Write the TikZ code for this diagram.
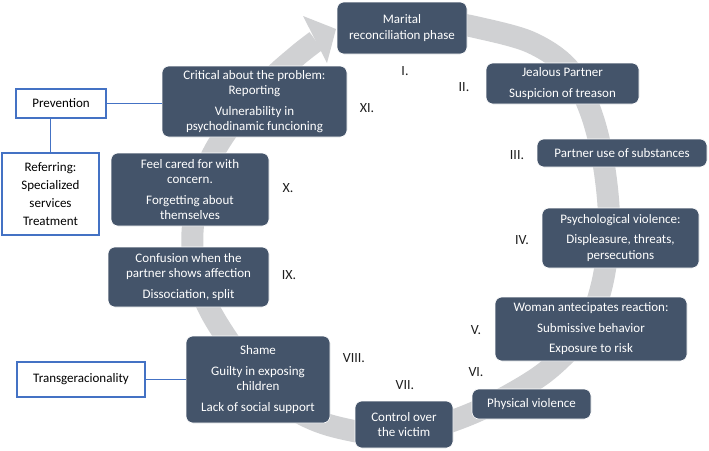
\documentclass[tikz,border=0pt]{standalone}
\usepackage{fontspec}
\setmainfont{Carlito}
\definecolor{boxc}{HTML}{44546A}
\definecolor{bandc}{HTML}{D0D1D3}
\definecolor{bluec}{HTML}{4472C4}
\definecolor{labc}{HTML}{1E1E1E}
\tikzset{
  darkbox/.style={rectangle, rounded corners=7pt, fill=boxc, draw=white, line width=0.6pt,
    text=white, align=center, inner sep=2pt,
    font=\fontsize{13}{15.5}\selectfont},
  bluebox/.style={rectangle, fill=white, draw=bluec, line width=1.2pt,
    text=black, align=center, inner sep=2pt,
    font=\fontsize{13}{15.5}\selectfont},
  roman/.style={text=labc, inner sep=0pt, font=\fontsize{14}{16}\selectfont},
  link/.style={draw=bluec, line width=1.2pt}
}
\begin{document}
\begin{tikzpicture}[x=1pt,y=-1pt]
\useasboundingbox (0,0) rectangle (709,450);
% grey circular band
\draw[bandc, line width=22pt, line cap=butt] plot[smooth, tension=0.55] coordinates {
 (440,21) (475,27) (530,42) (568,68) (590,110) (603,160) (609,220) (603,280)
 (585,330) (548,370) (500,400) (455,420) (400,436) (340,428) (300,413) (262,385)
 (228,340) (205,300) (193,255) (195,210) (210,160) (235,120) (270,80) (298,55) (316,41)};
\fill[bandc] (303,16) -- (336,29) -- (327,63) -- cycle;
% dark boxes
\node[darkbox, minimum width=130pt, minimum height=52pt] (b1) at (402,28) {Marital\\reconciliation phase};
\node[darkbox, minimum width=153pt, minimum height=41pt] (b2) at (562.5,83.5) {Jealous Partner\\[5pt]Suspicion of treason};
\node[darkbox, minimum width=170pt, minimum height=28pt] (b3) at (622,153) {Partner use of substances};
\node[darkbox, minimum width=157pt, minimum height=60pt] (b4) at (620.5,238) {Psychological violence:\\[5pt]Displeasure, threats,\\persecutions};
\node[darkbox, minimum width=192pt, minimum height=64pt] (b5) at (591,329) {Woman antecipates reaction:\\[5pt]Submissive behavior\\[5pt]Exposure to risk};
\node[darkbox, minimum width=119pt, minimum height=30pt] (b6) at (531.5,404) {Physical violence};
\node[darkbox, minimum width=98pt, minimum height=47pt] (b7) at (404,424.5) {Control over\\the victim};
\node[darkbox, minimum width=144pt, minimum height=87pt] (b8) at (258,379.5) {Shame\\[5pt]Guilty in exposing\\children\\[5pt]Lack of social support};
\node[darkbox, minimum width=161pt, minimum height=60pt] (b9) at (188.5,277) {Confusion when the\\partner shows affection\\[5pt]Dissociation, split};
\node[darkbox, minimum width=158pt, minimum height=73pt] (b10) at (190,189.5) {Feel cared for with\\concern.\\[5pt]Forgetting about\\themselves};
\node[darkbox, minimum width=185pt, minimum height=71pt] (b11) at (254.5,101.5) {Critical about the problem:\\Reporting\\[5pt]Vulnerability in\\psychodinamic funcioning};
% blue boxes
\node[bluebox, minimum width=90pt, minimum height=29pt] (prev) at (61,103.5) {Prevention};
\node[bluebox, minimum width=97pt, minimum height=82pt, font=\fontsize{13}{18}\selectfont] (refer) at (50.5,194) {Referring:\\Specialized\\services\\Treatment};
\node[bluebox, minimum width=128pt, minimum height=35pt] (trans) at (81,379.5) {Transgeracionality};
% connectors
\draw[link] (prev.east) -- (prev.east -| b11.west);
\draw[link] (refer.north) -- (refer.north |- prev.south);
\draw[link] (trans.east) -- (trans.east -| b8.west);
% roman numerals
\node[roman] (r1) at (405,71) {I.};
\node[roman] (r2) at (464,87) {II.};
\node[roman] (r3) at (517,155) {III.};
\node[roman] (r4) at (522,240) {IV.};
\node[roman] (r5) at (476,330) {V.};
\node[roman] (r6) at (476,372) {VI.};
\node[roman] (r7) at (405,385) {VII.};
\node[roman] (r8) at (354,358) {VIII.};
\node[roman] (r9) at (289,275) {IX.};
\node[roman] (r10) at (288,188) {X.};
\node[roman] (r11) at (367,108) {XI.};
\end{tikzpicture}
\end{document}
